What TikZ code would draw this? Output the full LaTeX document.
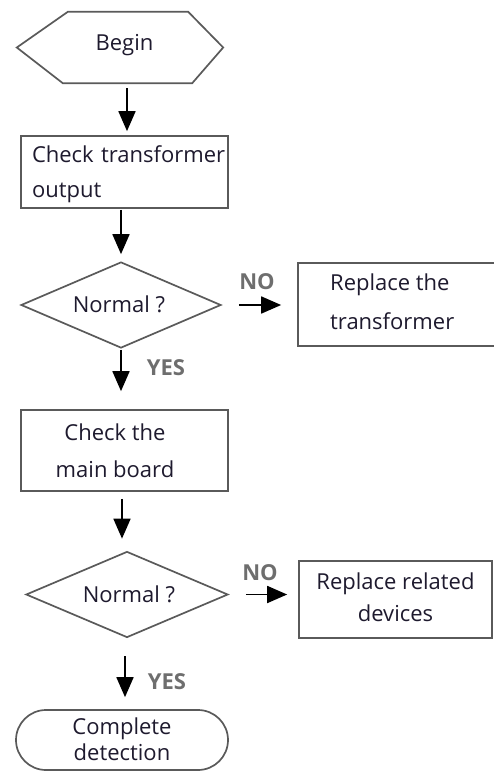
\documentclass[tikz,border=0pt]{standalone}
\usepackage{fontspec}
\setmainfont{Open Sans}
\usetikzlibrary{shapes.geometric,shapes.misc,arrows.meta}
\definecolor{edgegray}{HTML}{5A5A5A}
\definecolor{labgray}{HTML}{6E6E6E}
\definecolor{txtcol}{HTML}{1E1A2E}
\tikzset{
  outline/.style={draw=edgegray,line width=1.7pt,fill=white},
  boxshape/.style={outline,rectangle,inner sep=0pt},
  dia/.style={outline,diamond,inner sep=0pt},
  txt/.style={text=txtcol,inner sep=0pt,font=\fontsize{22}{35}\selectfont},
  lab/.style={text=labgray,inner sep=0pt,font=\fontsize{22}{26}\selectfont\bfseries},
  arr/.style={draw=black,line width=1.8pt,-{Triangle[length=20pt,width=17pt]}},
}
\begin{document}
\begin{tikzpicture}[x=1pt,y=-1pt]
\useasboundingbox (0,0) rectangle (494,772);
\clip (0,0) rectangle (494,772);
% shapes
\node[inner sep=0pt,minimum width=206pt,minimum height=71pt] (begin) at (120,47.5) {};
\draw[outline] (begin.west) -- ([xshift=51pt]begin.north west) -- ([xshift=-35pt]begin.north east)
  -- (begin.east) -- ([xshift=-31pt]begin.south east) -- ([xshift=46pt]begin.south west) -- cycle;
\node[boxshape,minimum width=207pt,minimum height=72pt] (box1) at (124.5,172) {};
\node[dia,minimum width=200pt,minimum height=86pt] (d1) at (121,305) {};
\node[boxshape,minimum width=206pt,minimum height=83pt] (rep1) at (401,304.5) {};
\node[boxshape,minimum width=207pt,minimum height=81pt] (box2) at (124.5,450.5) {};
\node[dia,minimum width=202pt,minimum height=86pt] (d2) at (127,594.5) {};
\node[boxshape,minimum width=193pt,minimum height=77pt] (rep2) at (395.5,599.5) {};
\node[outline,rounded rectangle,inner sep=0pt,minimum width=212pt,minimum height=60pt] (endn) at (122,740) {};
% texts
\node[txt] (tbegin) at (124.5,45) {Begin};
\node[txt,align=left,text width=194pt] (tbox1) at (129,174) {Check transformer\\output};
\node[txt] (td1) at (119,304) {Normal ?};
\node[txt,align=left,anchor=west,font=\fontsize{22}{39}\selectfont] (trep1) at (330,302) {Replace the\\transformer};
\node[txt,align=center,font=\fontsize{22}{37}\selectfont] (tbox2) at (115,451) {Check the\\main board};
\node[txt] (td2) at (129,594) {Normal ?};
\node[txt,align=center,font=\fontsize{22}{32}\selectfont] (trep2) at (395.5,597) {Replace related\\devices};
\node[txt,align=center,font=\fontsize{22}{26}\selectfont] (tend) at (122,739) {Complete\\detection};
\node[lab] (no1) at (257,282) {NO};
\node[lab] (yes1) at (166,368) {YES};
\node[lab] (no2) at (260,573) {NO};
\node[lab] (yes2) at (167,682) {YES};
% connectors
\draw[arr,shorten <=5pt,shorten >=4pt] ([xshift=7pt]begin.south) -- ([xshift=2.5pt]box1.north);
\draw[arr,shorten <=1pt,shorten >=7pt] ([xshift=-3.5pt]box1.south) -- (d1.north);
\draw[arr,shorten <=17pt,shorten >=16pt] (d1.east) -- (rep1.west |- d1.east);
\draw[arr,shorten <=1pt,shorten >=18pt] (d1.south) -- ([xshift=-3.5pt]box2.north);
\draw[arr,shorten <=7pt,shorten >=12pt] ([xshift=-2.5pt]box2.south) -- ([xshift=-5pt]d2.north);
\draw[arr,shorten <=17pt,shorten >=11pt] (d2.east) -- (rep2.west |- d2.east);
\draw[arr,shorten <=18pt,shorten >=12pt] ([xshift=-2pt]d2.south) -- ([xshift=3pt]endn.north);
\end{tikzpicture}
\end{document}
